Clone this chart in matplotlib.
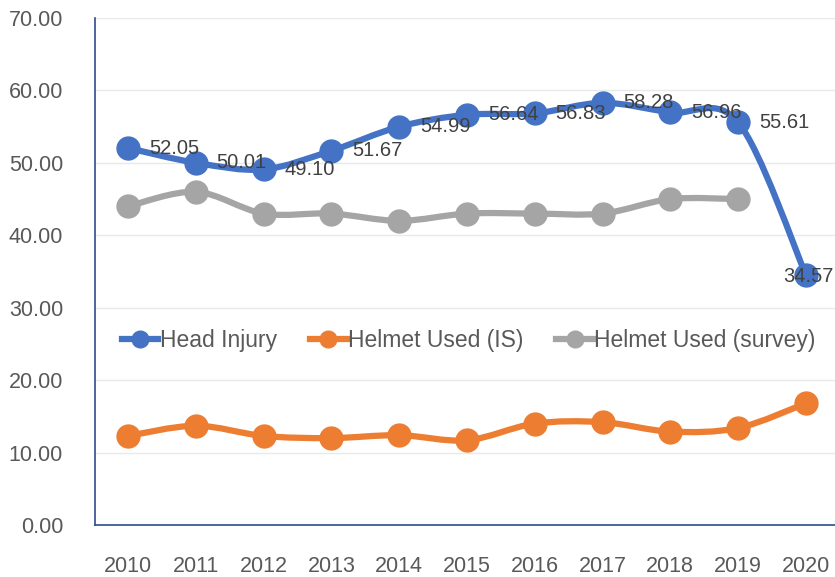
import matplotlib
matplotlib.use("Agg")
import matplotlib.pyplot as plt
from matplotlib.path import Path
import matplotlib.patches as patches
from matplotlib.lines import Line2D

plt.rcParams['font.family'] = ['Liberation Sans', 'DejaVu Sans']

years = ['2010', '2011', '2012', '2013', '2014', '2015', '2016', '2017', '2018', '2019', '2020']
head_injury = [52.05, 50.01, 49.10, 51.67, 54.99, 56.64, 56.83, 58.28, 56.96, 55.61, 34.57]
helmet_is = [12.3, 13.7, 12.3, 12.0, 12.4, 11.7, 14.0, 14.2, 12.9, 13.4, 16.8]
helmet_survey = [44, 46, 43, 43, 42, 43, 43, 43, 45, 45]

BLUE = '#4472C4'
ORANGE = '#ED7D31'
GREY = '#A5A5A5'


def smooth_path(xs, ys):
    # excel style smoothing: bezier segments with catmull-rom control points
    verts = [(xs[0], ys[0])]
    codes = [Path.MOVETO]
    n = len(xs)
    for i in range(n - 1):
        x0, y0 = (xs[i - 1], ys[i - 1]) if i > 0 else (xs[i], ys[i])
        x1, y1 = xs[i], ys[i]
        x2, y2 = xs[i + 1], ys[i + 1]
        x3, y3 = (xs[i + 2], ys[i + 2]) if i + 2 < n else (x2, y2)
        c1 = (x1 + (x2 - x0) / 6, y1 + (y2 - y0) / 6)
        c2 = (x2 - (x3 - x1) / 6, y2 - (y3 - y1) / 6)
        verts += [c1, c2, (x2, y2)]
        codes += [Path.CURVE4] * 3
    return Path(verts, codes)


fig = plt.figure(figsize=(8.35, 5.77), dpi=100)
ax = fig.add_axes([0.1138, 0.0901, 0.8862, 0.8787])

series = [(head_injury, BLUE, 'Head Injury'),
          (helmet_is, ORANGE, 'Helmet Used (IS)'),
          (helmet_survey, GREY, 'Helmet Used (survey)')]

handles = []
for vals, col, name in series:
    xs = list(range(len(vals)))
    p = smooth_path(xs, vals)
    ax.add_patch(patches.PathPatch(p, fill=False, edgecolor=col, lw=4.5,
                                   capstyle='round', joinstyle='round', zorder=3))
    ax.plot(xs, vals, 'o', color=col, ms=16.5, zorder=4)
    handles.append(Line2D([], [], color=col, lw=4.5, marker='o', ms=12))

for i, v in enumerate(head_injury):
    if i == len(head_injury) - 1:
        ax.annotate(f'{v:.2f}', (i, v), xytext=(-16, -1.5), textcoords='offset points',
                    ha='left', va='center', fontsize=14.5, color='#404040', zorder=5)
    else:
        ax.annotate(f'{v:.2f}', (i, v), xytext=(15, 0), textcoords='offset points',
                    ha='left', va='center', fontsize=14.5, color='#404040', zorder=5)

ax.set_xlim(-0.487, 10.43)
ax.set_ylim(0, 70)
ax.set_yticks(range(0, 71, 10))
ax.set_yticklabels([f'{t:.2f}' for t in range(0, 71, 10)])
ax.set_xticks(range(len(years)))
ax.set_xticklabels(years)
ax.tick_params(axis='both', length=0, labelsize=15.5, labelcolor='#595959')
ax.tick_params(axis='x', pad=22)
ax.tick_params(axis='y', pad=23)
ax.grid(axis='y', color='#E9E9E9', lw=1)
ax.set_axisbelow(True)
for s in ['top', 'right']:
    ax.spines[s].set_visible(False)
for s in ['left', 'bottom']:
    ax.spines[s].set_color('#2F4B8F')
    ax.spines[s].set_linewidth(1.2)

ax.legend(handles, [s[2] for s in series], ncol=3, loc='center',
          bbox_to_anchor=(0.505, 0.363), frameon=False, fontsize=16.5,
          labelcolor='#595959', handlelength=1.6, handletextpad=0.05,
          columnspacing=1.45)

fig.savefig('out.png', dpi=100)
